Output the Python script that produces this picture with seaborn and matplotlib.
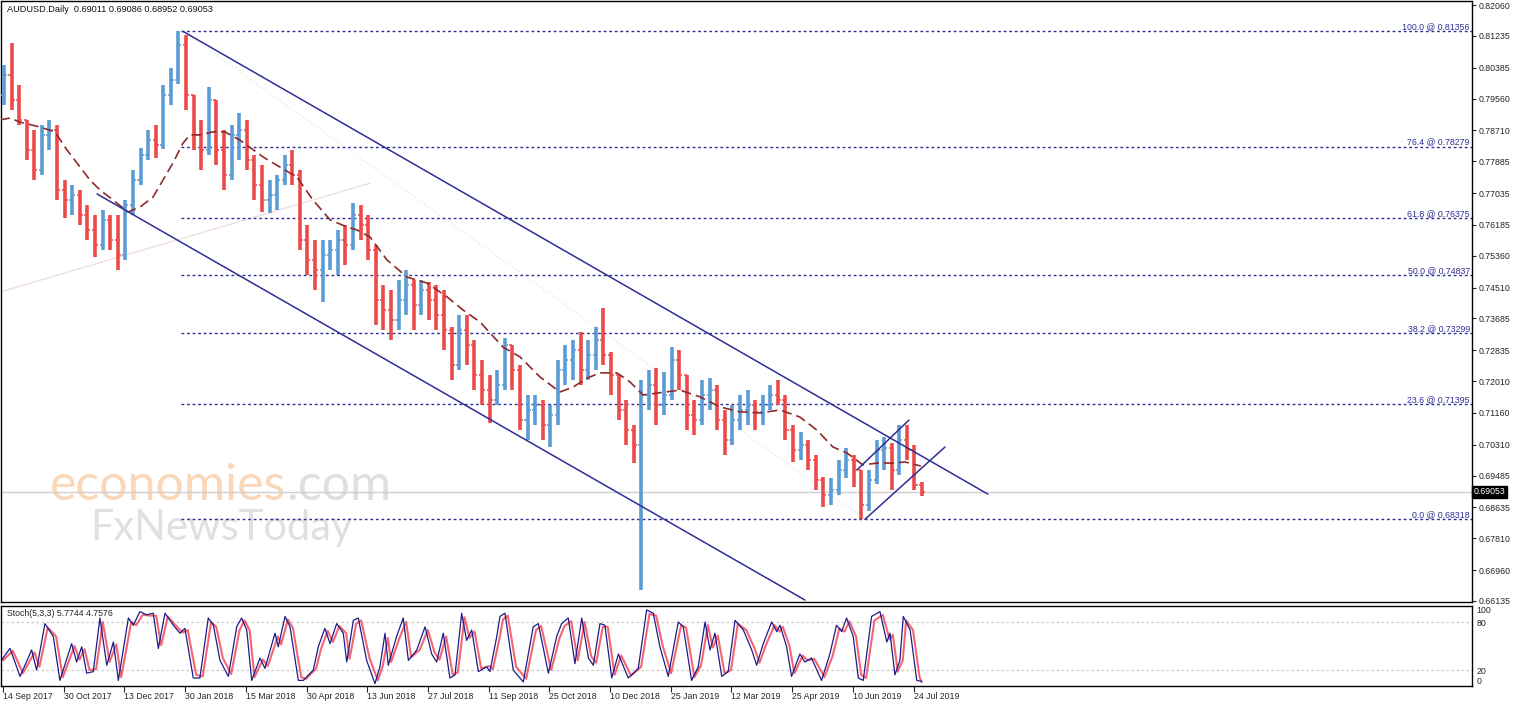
import numpy as np
import pandas as pd
import matplotlib
matplotlib.use("Agg")
import matplotlib.pyplot as plt
import matplotlib.transforms as mtransforms
import seaborn as sns

# ---- values -----------------------------------------------------------------
# one bar per 4 trading days, day 0 = 14 Sep 2017
bar_open = [0.7966, 0.8019, 0.7952, 0.7899, 0.7819, 0.7765, 0.7859, 0.7872, 0.7712, 0.7685,
            0.7698, 0.7645, 0.7605, 0.7565, 0.7632, 0.7578, 0.7538, 0.7672, 0.7738, 0.7805,
            0.7845, 0.7832, 0.7966, 0.8006, 0.8099, 0.7966, 0.7859, 0.7819, 0.7952, 0.7819,
            0.7752, 0.7859, 0.7872, 0.7792, 0.7725, 0.7685, 0.7698, 0.7738, 0.7779, 0.7752,
            0.7578, 0.7525, 0.7498, 0.7538, 0.7551, 0.7578, 0.7565, 0.7645, 0.7618, 0.7551,
            0.7418, 0.7391, 0.7364, 0.7418, 0.7458, 0.7404, 0.7445, 0.7418, 0.7378, 0.7338,
            0.7244, 0.7338, 0.7298, 0.7217, 0.7177, 0.7151, 0.7191, 0.7298, 0.7231, 0.7097,
            0.7124, 0.7137, 0.7084, 0.7110, 0.7231, 0.7257, 0.7284, 0.7231, 0.7271, 0.7311,
            0.7271, 0.7217, 0.7124, 0.7070, 0.7030, 0.7164, 0.7191, 0.7137, 0.7164, 0.7257,
            0.7217, 0.7110, 0.7097, 0.7164, 0.7177, 0.7097, 0.7044, 0.7097, 0.7124, 0.7137,
            0.7118, 0.7137, 0.7164, 0.7151, 0.7070, 0.7017, 0.7030, 0.6990, 0.6937, 0.6897,
            0.6910, 0.6964, 0.6990, 0.6964, 0.6870, 0.6937, 0.7017, 0.7022, 0.6964, 0.7044,
            0.7017, 0.6923]
bar_high = [0.8046, 0.8104, 0.7992, 0.7899, 0.7872, 0.7885, 0.7899, 0.7885, 0.7738, 0.7725,
            0.7712, 0.7672, 0.7645, 0.7658, 0.7645, 0.7645, 0.7685, 0.7765, 0.7824, 0.7872,
            0.7885, 0.7992, 0.8038, 0.81356, 0.8126, 0.7966, 0.7899, 0.7987, 0.7952, 0.7872,
            0.7885, 0.7917, 0.7899, 0.7805, 0.7779, 0.7738, 0.7752, 0.7805, 0.7819, 0.7765,
            0.7618, 0.7578, 0.7578, 0.7578, 0.7605, 0.7618, 0.7677, 0.7672, 0.7645, 0.7565,
            0.7458, 0.7445, 0.7471, 0.7498, 0.7471, 0.7471, 0.7466, 0.7458, 0.7445, 0.7345,
            0.7378, 0.7378, 0.7311, 0.7257, 0.7217, 0.7231, 0.7316, 0.7298, 0.7244, 0.7164,
            0.7164, 0.7151, 0.7137, 0.7257, 0.7298, 0.7311, 0.7332, 0.7311, 0.7346, 0.7396,
            0.7280, 0.7217, 0.7151, 0.7084, 0.7204, 0.7231, 0.7236, 0.7225, 0.7292, 0.7284,
            0.7217, 0.7151, 0.7204, 0.7209, 0.7191, 0.7124, 0.7137, 0.7164, 0.7177, 0.7151,
            0.7164, 0.7191, 0.7204, 0.7164, 0.7084, 0.7065, 0.7044, 0.7004, 0.6945, 0.6942,
            0.6990, 0.7022, 0.7004, 0.6964, 0.6964, 0.7044, 0.7052, 0.7036, 0.7084, 0.7084,
            0.7030, 0.6931]
bar_low = [0.7939, 0.7925, 0.7885, 0.7792, 0.7738, 0.7752, 0.7819, 0.7685, 0.7637, 0.7645,
           0.7618, 0.7578, 0.7533, 0.7551, 0.7551, 0.7498, 0.7525, 0.7645, 0.7725, 0.7792,
           0.7797, 0.7820, 0.7939, 0.7995, 0.7925, 0.7819, 0.7765, 0.7805, 0.7779, 0.7712,
           0.7738, 0.7792, 0.7765, 0.7685, 0.7653, 0.7650, 0.7658, 0.7725, 0.7725, 0.7551,
           0.7485, 0.7445, 0.7412, 0.7498, 0.7485, 0.7511, 0.7551, 0.7578, 0.7525, 0.7351,
           0.7338, 0.7311, 0.7338, 0.7378, 0.7338, 0.7378, 0.7364, 0.7338, 0.7284, 0.7204,
           0.7230, 0.7244, 0.7177, 0.7137, 0.7089, 0.7137, 0.7177, 0.7177, 0.7070, 0.7044,
           0.7084, 0.7044, 0.7025, 0.7084, 0.7191, 0.7204, 0.7191, 0.7204, 0.7231, 0.7244,
           0.7164, 0.7097, 0.7030, 0.6982, 0.6643, 0.7124, 0.7084, 0.7110, 0.7151, 0.7177,
           0.7070, 0.7057, 0.7084, 0.7124, 0.7070, 0.7004, 0.7030, 0.7070, 0.7084, 0.7070,
           0.7084, 0.7124, 0.7137, 0.7044, 0.6985, 0.6990, 0.6964, 0.6910, 0.6865, 0.6870,
           0.6897, 0.6942, 0.6918, 0.68318, 0.6855, 0.6925, 0.6964, 0.6910, 0.6950, 0.6990,
           0.6910, 0.6895]
bar_close = [0.8019, 0.7952, 0.7899, 0.7819, 0.7765, 0.7859, 0.7872, 0.7712, 0.7685, 0.7698,
             0.7645, 0.7605, 0.7565, 0.7632, 0.7578, 0.7538, 0.7672, 0.7738, 0.7805, 0.7845,
             0.7832, 0.7966, 0.8006, 0.8099, 0.7966, 0.7859, 0.7819, 0.7952, 0.7819, 0.7752,
             0.7859, 0.7872, 0.7792, 0.7725, 0.7685, 0.7698, 0.7738, 0.7779, 0.7752, 0.7578,
             0.7525, 0.7498, 0.7538, 0.7551, 0.7578, 0.7565, 0.7645, 0.7618, 0.7551, 0.7418,
             0.7391, 0.7364, 0.7418, 0.7458, 0.7404, 0.7445, 0.7418, 0.7378, 0.7338, 0.7244,
             0.7338, 0.7298, 0.7217, 0.7177, 0.7151, 0.7191, 0.7298, 0.7231, 0.7097, 0.7124,
             0.7137, 0.7084, 0.7110, 0.7231, 0.7257, 0.7284, 0.7231, 0.7271, 0.7311, 0.7271,
             0.7217, 0.7124, 0.7070, 0.7030, 0.7164, 0.7191, 0.7137, 0.7164, 0.7257, 0.7217,
             0.7110, 0.7097, 0.7164, 0.7177, 0.7097, 0.7044, 0.7097, 0.7124, 0.7137, 0.7118,
             0.7137, 0.7164, 0.7151, 0.7070, 0.7017, 0.7030, 0.6990, 0.6937, 0.6897, 0.6910,
             0.6964, 0.6990, 0.6964, 0.6870, 0.6937, 0.7017, 0.7022, 0.6964, 0.7044, 0.7017,
             0.6923, 0.69053]

# moving average (dashed line), vertices: trading day, price
ma_day = [-1.6, 3.7, 9.0, 19.5, 27.4, 33.7, 45.9, 51.1, 58.0, 65.9, 72.2, 79.1, 84.3, 89.6,
          94.9, 98.6, 103.8, 110.7, 117.0, 124.9, 137.1, 146.0, 155.0, 163.4, 172.4, 181.3,
          186.6, 193.5, 202.4, 213.0, 223.5, 234.1, 242.5, 251.5, 256.7, 263.6, 272.5, 283.1,
          293.6, 300.5, 307.9, 314.7, 323.7, 330.5, 337.4, 344.8, 356.9, 367.4, 378.0, 388.5,
          399.1, 409.6, 420.1, 429.1, 437.5, 444.9, 453.3, 460.7, 469.2, 475.5, 483.9]
ma_value = [0.7899, 0.7904, 0.7893, 0.7880, 0.7867, 0.7819, 0.7738, 0.7712, 0.7685, 0.7653,
            0.7666, 0.7693, 0.7738, 0.7784, 0.7837, 0.7859, 0.7859, 0.7867, 0.7867, 0.7845,
            0.7800, 0.7773, 0.7746, 0.7685, 0.7632, 0.7613, 0.7605, 0.7586, 0.7525, 0.7479,
            0.7463, 0.7426, 0.7391, 0.7359, 0.7330, 0.7292, 0.7266, 0.7212, 0.7172, 0.7185,
            0.7209, 0.7223, 0.7223, 0.7199, 0.7164, 0.7169, 0.7177, 0.7159, 0.7132, 0.7119,
            0.7116, 0.7124, 0.7105, 0.7070, 0.7025, 0.7009, 0.6977, 0.6982, 0.6982, 0.6985,
            0.6974]

# Stochastic(5,3,3): main line vertices and signal line vertices
stoch_k_day = [-1.5, 3.7, 9.0, 15.1, 17.7, 22.1, 26.5, 30.0, 36.2, 38.8,
               41.5, 44.1, 47.6, 51.1, 54.7, 58.2, 60.8, 66.1, 68.7, 72.2,
               75.7, 79.2, 81.9, 85.4, 89.8, 93.3, 95.9, 100.3, 103.8, 108.2,
               110.9, 114.4, 118.8, 123.2, 125.8, 128.5, 131.1, 135.5, 138.1, 143.4,
               145.1, 148.7, 151.3, 155.7, 158.3, 163.6, 166.2, 169.7, 172.4, 175.9,
               179.4, 181.2, 184.7, 187.3, 191.7, 196.1, 198.7, 201.4, 203.1, 207.5,
               211.0, 213.7, 218.1, 222.5, 226.0, 228.6, 232.1, 235.6, 238.3, 241.8,
               244.4, 247.1, 250.6, 255.0, 256.7, 260.3, 262.0, 264.6, 269.0, 274.3,
               279.5, 282.2, 287.5, 291.9, 294.5, 298.0, 301.5, 305.1, 308.6, 311.2,
               314.7, 317.3, 320.9, 324.4, 329.6, 334.9, 339.3, 342.8, 346.3, 350.7,
               356.0, 358.6, 363.0, 366.5, 370.1, 372.7, 375.3, 378.9, 382.3, 385.9,
               390.3, 394.7, 397.3, 400.8, 405.2, 407.9, 409.6, 413.1, 415.7, 420.1,
               422.7, 426.2, 431.5, 435.9, 439.4, 442.1, 444.7, 448.2, 450.9, 453.5,
               457.9, 462.3, 465.9, 467.6, 470.2, 472.8, 474.6, 478.2, 481.7, 484.3]
stoch_k = [30, 47, 12, 45, 20, 78, 62, 7, 53, 30,
           49, 16, 18, 85, 26, 55, 7, 85, 76, 93,
           89, 91, 47, 91, 76, 66, 72, 10, 10, 85,
           76, 32, 12, 74, 85, 70, 7, 35, 22, 66,
           49, 87, 74, 7, 7, 20, 49, 72, 53, 78,
           66, 30, 82, 85, 32, 3, 24, 66, 26, 62,
           85, 32, 45, 74, 40, 30, 66, 10, 14, 91,
           57, 70, 18, 24, 18, 62, 87, 91, 20, 5,
           74, 78, 16, 62, 78, 85, 28, 85, 35, 26,
           78, 76, 10, 40, 10, 22, 95, 91, 49, 12,
           80, 74, 7, 24, 80, 45, 66, 12, 18, 82,
           70, 45, 26, 53, 80, 68, 76, 49, 12, 40,
           30, 35, 7, 40, 76, 68, 85, 62, 10, 7,
           87, 93, 55, 66, 14, 32, 87, 70, 7, 5.7744]
stoch_d_day = [0.0, 5.2, 10.5, 16.6, 19.2, 23.6, 28.0, 31.5, 37.7, 40.3,
               43.0, 45.6, 49.1, 52.6, 56.2, 59.7, 62.3, 67.6, 70.2, 73.7,
               77.2, 80.7, 83.4, 86.9, 91.3, 94.8, 97.4, 101.8, 105.3, 109.7,
               112.4, 115.9, 120.3, 124.7, 127.3, 130.0, 132.6, 137.0, 139.6, 144.9,
               146.6, 150.2, 152.8, 157.2, 159.8, 165.1, 167.7, 171.2, 173.9, 177.4,
               180.9, 182.7, 186.2, 188.8, 193.2, 197.6, 200.2, 202.9, 204.6, 209.0,
               212.5, 215.2, 219.6, 224.0, 227.5, 230.1, 233.6, 237.1, 239.8, 243.3,
               245.9, 248.6, 252.1, 256.5, 258.2, 261.8, 263.5, 266.1, 270.5, 275.8,
               281.0, 283.7, 289.0, 293.4, 296.0, 299.5, 303.0, 306.6, 310.1, 312.7,
               316.2, 318.8, 322.4, 325.9, 331.1, 336.4, 340.8, 344.3, 347.8, 352.2,
               357.5, 360.1, 364.5, 368.0, 371.6, 374.2, 376.8, 380.4, 383.8, 387.4,
               391.8, 396.2, 398.8, 402.3, 406.7, 409.4, 411.1, 414.6, 417.2, 421.6,
               424.2, 427.7, 433.0, 437.4, 440.9, 443.6, 446.2, 449.7, 452.4, 455.0,
               459.4, 463.8, 467.4, 469.1, 471.7, 474.3, 476.1, 479.7, 483.2, 484.3]
stoch_d = [32, 44, 16, 42, 24, 73, 62, 11, 50, 33,
           46, 20, 21, 80, 30, 52, 11, 80, 76, 89,
           88, 88, 51, 87, 75, 67, 70, 14, 12, 80,
           74, 35, 15, 70, 82, 70, 11, 33, 25, 62,
           52, 83, 73, 11, 9, 22, 47, 69, 55, 75,
           66, 34, 78, 82, 35, 7, 25, 60, 30, 60,
           80, 36, 45, 70, 42, 33, 62, 14, 17, 86,
           60, 68, 22, 25, 21, 60, 83, 88, 24, 9,
           70, 75, 20, 60, 75, 81, 32, 80, 37, 29,
           74, 74, 14, 38, 13, 24, 90, 88, 50, 16,
           76, 73, 11, 26, 76, 48, 63, 16, 20, 78,
           70, 47, 29, 52, 76, 68, 74, 50, 16, 38,
           32, 34, 11, 38, 72, 68, 81, 62, 14, 10,
           82, 89, 58, 64, 18, 32, 82, 70, 11, 4.7576]

# Fibonacci retracement levels
fib_pct = ["100.0", "76.4", "61.8", "50.0", "38.2", "23.6", "0.0"]
fib_price = [0.81356, 0.78279, 0.76375, 0.74837, 0.73299, 0.71395, 0.68318]
fib_start_day = 93.8

# trendlines: (day0, price0, day1, price1)
channel_upper = [94.9, 0.81356, 519.2, 0.6899]
channel_lower = [49.6, 0.7701, 422.8, 0.6616]
small_upper = [450.2, 0.6964, 477.6, 0.7097]
small_lower = [454.4, 0.68318, 496.6, 0.7025]
faint_line = [-1.6, 0.7439, 193.5, 0.7730]
fib_diagonal = [94.9, 0.81356, 454.4, 0.68318]

last_price = 0.69053
price_ticks = [0.82060, 0.81235, 0.80385, 0.79560, 0.78710, 0.77885, 0.77035, 0.76185,
               0.75360, 0.74510, 0.73685, 0.72835, 0.72010, 0.71160, 0.70310, 0.69485,
               0.68635, 0.67810, 0.66960, 0.66135]
date_labels = ["14 Sep 2017", "30 Oct 2017", "13 Dec 2017", "30 Jan 2018", "15 Mar 2018",
               "30 Apr 2018", "13 Jun 2018", "27 Jul 2018", "11 Sep 2018", "25 Oct 2018",
               "10 Dec 2018", "25 Jan 2019", "12 Mar 2019", "25 Apr 2019", "10 Jun 2019",
               "24 Jul 2019"]
days_per_label = 32

# ---- style -----------------------------------------------------------------
sns.set_style("white")
plt.rcParams["font.family"] = ["Liberation Sans", "DejaVu Sans"]
FS = 6.3
NAVY = "#2E2E96"
UP, DOWN = "#5B9BD6", "#EC4A4A"

W, H = 1515, 706
fig = plt.figure(figsize=(W / 100, H / 100), dpi=100)
ax = fig.add_axes([1 / W, 1 - 602 / H, 1471 / W, 600.5 / H])
ax2 = fig.add_axes([1 / W, 1 - 686 / H, 1471 / W, 80 / H])

xmin, xmax = -1.05, 774.4
bars = pd.DataFrame({"open": bar_open, "high": bar_high, "low": bar_low, "close": bar_close})
bars["day"] = np.arange(len(bars)) * 4 + 0.5
colors = np.where(bars["close"] >= bars["open"], UP, DOWN)

# faint helper lines
for ln, col, ls in [(faint_line, "#EDDCDC", "-"), (fib_diagonal, "#E2E2E2", (0, (1, 2)))]:
    ax.plot([ln[0], ln[2]], [ln[1], ln[3]], color=col, lw=0.9, ls=ls, zorder=1)

# fib levels
ax.hlines(fib_price, fib_start_day, xmax, colors=NAVY, lw=1.0, linestyles=(0, (2, 2)), zorder=2)
blend = mtransforms.blended_transform_factory(ax.transAxes, ax.transData)
for pct, pr in zip(fib_pct, fib_price):
    ax.text(0.9985, pr, f"{pct} @ {pr:.5f}", transform=blend,
            ha="right", va="bottom", fontsize=FS, color=NAVY, zorder=3)

# current price line
ax.axhline(last_price, color="#CFCFCF", lw=1.0, zorder=1)

# OHLC bars
ax.vlines(bars["day"], bars["low"], bars["high"], colors=colors, lw=2.6, zorder=4)
ax.hlines(bars["open"], bars["day"] - 1.6, bars["day"], colors=colors, lw=1.1, zorder=4)
ax.hlines(bars["close"], bars["day"], bars["day"] + 1.6, colors=colors, lw=1.1, zorder=4)

# moving average
sns.lineplot(x=ma_day, y=ma_value, ax=ax, color="#8E2A2A", lw=1.2, linestyle=(0, (6, 3)),
             estimator=None, sort=False, zorder=5)

# channels
for ln in [channel_upper, channel_lower, small_upper, small_lower]:
    ax.plot([ln[0], ln[2]], [ln[1], ln[3]], color=NAVY, lw=1.1, zorder=6)

ax.set_xlim(xmin, xmax)
ax.set_ylim(0.66108, 0.82154)
ax.yaxis.tick_right()
ax.set_yticks(price_ticks)
ax.set_yticklabels([f"{v:.5f}" for v in price_ticks])
ax.set_xticks([])
ax.tick_params(axis="y", direction="out", length=3, width=0.8, pad=2, labelsize=FS, right=True, left=False)

ax.text(1.0012, last_price, f"{last_price:.5f}", transform=blend,
        ha="left", va="center", fontsize=FS, color="white", zorder=10, clip_on=False,
        bbox=dict(boxstyle="square,pad=0.2", facecolor="black", edgecolor="black"))

fig.text(7 / W, 1 - 10 / H, "AUDUSD.Daily  0.69011 0.69086 0.68952 0.69053",
         fontsize=FS + 0.3, va="center", ha="left", color="#111111")

# watermark
wm_font = ["Lato", "DejaVu Sans"]
t1 = ax.text(50 / W, 1 - 500 / H, "economies", transform=fig.transFigure, fontsize=36,
             family=wm_font, color="#FAD7B8", va="baseline", ha="left", zorder=0.5)
ax.annotate(".com", xy=(1, 0), xycoords=t1, fontsize=36, family=wm_font,
            color="#DFDFDF", va="bottom", ha="left", zorder=0.5)
ax.text(90 / W, 1 - 540 / H, "FxNewsToday", transform=fig.transFigure, fontsize=30,
        family=wm_font, color="#E0E0E0", va="baseline", ha="left", zorder=0.5)

for sp in ax.spines.values():
    sp.set_color("black")
    sp.set_linewidth(1.0)

# ---- stochastic panel --------------------------------------------------------
ax2.axhline(80, color="#C8C8C8", lw=0.9, ls=(0, (2, 2)))
ax2.axhline(20, color="#C8C8C8", lw=0.9, ls=(0, (2, 2)))
sns.lineplot(x=stoch_d_day, y=stoch_d, ax=ax2, color="#F2404E", lw=1.5, alpha=0.8,
             estimator=None, sort=False)
sns.lineplot(x=stoch_k_day, y=stoch_k, ax=ax2, color="#1C1C8A", lw=0.9,
             estimator=None, sort=False)
ax2.set_xlim(xmin, xmax)
ax2.set_ylim(0, 100)
ax2.set_xlabel("")
ax2.set_ylabel("")
ax2.yaxis.tick_right()
ax2.set_yticks([0, 20, 80, 100])
ax2.set_yticklabels(["0", "20", "80", "100"])
ax2.tick_params(axis="y", length=0, pad=3, labelsize=FS, right=True, left=False)
ylabels = ax2.get_yticklabels()
ylabels[0].set_va("bottom")
ylabels[3].set_va("top")

tick_days = np.arange(len(date_labels)) * days_per_label
ax2.set_xticks(tick_days)
ax2.set_xticklabels(date_labels, ha="left")
ax2.tick_params(axis="x", direction="out", length=4, width=0.8, pad=0, labelsize=FS, bottom=True)
ax2.text(7 / W, 1 - 613 / H, "Stoch(5,3,3) 5.7744 4.7576", transform=fig.transFigure,
         fontsize=FS, va="center", ha="left", color="#222222")
for sp in ax2.spines.values():
    sp.set_color("black")
    sp.set_linewidth(1.0)

fig.savefig("out.png", dpi=100, facecolor="white")
